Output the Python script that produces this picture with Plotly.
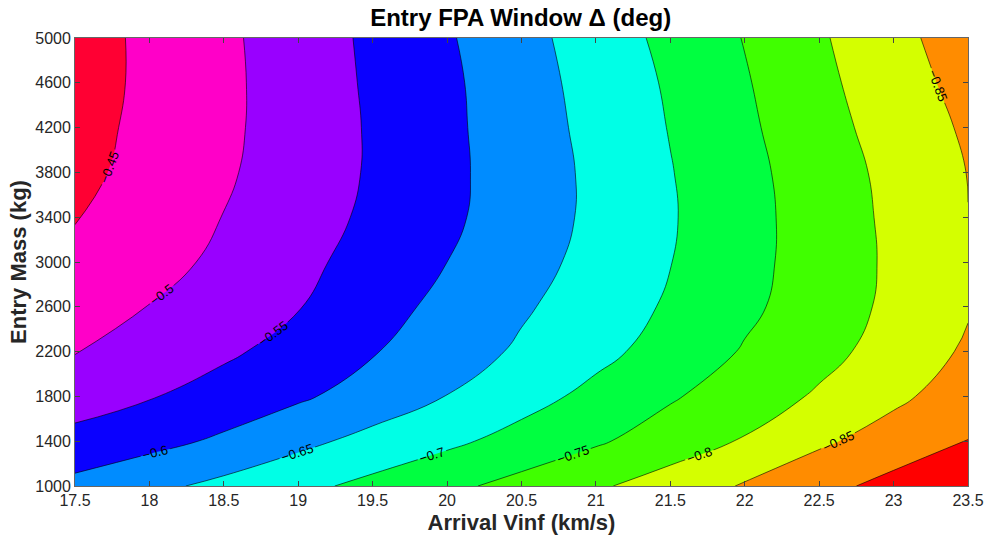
import plotly.graph_objects as go

# Arrival hyperbolic excess speed (km/s) and entry mass (kg) grid
vinf_kms = [17.5, 18.0, 18.5, 19.0, 19.5, 20.0, 20.5, 21.0, 21.5, 22.0, 22.5, 23.0, 23.5]
mass_kg = [1000, 1400, 1800, 2200, 2600, 3000, 3400, 3800, 4200, 4600, 5000]

# Entry FPA window width (deg), one row per entry mass
fpa_m1000 = [-0.614, -0.638, -0.6625, -0.6875, -0.713, -0.739, -0.7655, -0.793, -0.823, -0.854, -0.885, -0.915, -0.940]
fpa_m1400 = [-0.565, -0.585, -0.608, -0.6375, -0.665, -0.690, -0.717, -0.744, -0.7735, -0.804, -0.842, -0.872, -0.901]
fpa_m1800 = [-0.528, -0.547, -0.570, -0.593, -0.621, -0.651, -0.682, -0.713, -0.745, -0.775, -0.806, -0.840, -0.874]
fpa_m2200 = [-0.498, -0.519, -0.542, -0.568, -0.597, -0.627, -0.657, -0.687, -0.719, -0.754, -0.785, -0.819, -0.857]
fpa_m2600 = [-0.481, -0.501, -0.525, -0.548, -0.581, -0.613, -0.644, -0.674, -0.706, -0.740, -0.775, -0.810, -0.846]
fpa_m3000 = [-0.460, -0.483, -0.510, -0.538, -0.568, -0.600, -0.632, -0.665, -0.699, -0.735, -0.772, -0.808, -0.842]
fpa_m3400 = [-0.448, -0.474, -0.501, -0.529, -0.559, -0.591, -0.625, -0.660, -0.696, -0.734, -0.772, -0.810, -0.8495]
fpa_m3800 = [-0.4375, -0.466, -0.494, -0.524, -0.555, -0.589, -0.624, -0.660, -0.698, -0.736, -0.775, -0.813, -0.851]
fpa_m4200 = [-0.433, -0.462, -0.491, -0.522, -0.555, -0.590, -0.626, -0.664, -0.702, -0.741, -0.782, -0.820, -0.857]
fpa_m4600 = [-0.429, -0.460, -0.490, -0.523, -0.557, -0.591, -0.629, -0.668, -0.706, -0.746, -0.788, -0.828, -0.866]
fpa_m5000 = [-0.429, -0.460, -0.491, -0.525, -0.559, -0.595, -0.634, -0.673, -0.713, -0.752, -0.794, -0.835, -0.876]

fpa_grid = [fpa_m1000, fpa_m1400, fpa_m1800, fpa_m2200, fpa_m2600, fpa_m3000,
            fpa_m3400, fpa_m3800, fpa_m4200, fpa_m4600, fpa_m5000]

# Contour levels
level_start, level_end, level_step = -0.90, -0.45, 0.05

# Band colours from lowest (< -0.9) to highest (> -0.45), hsv-like
band_colors = ['#FF0000', '#FF8C00', '#D4FF00', '#40FF00', '#00FF40', '#00FFE6',
               '#008CFF', '#0A00FF', '#9900FF', '#FF00C8', '#FF0033']

n_bands = len(band_colors)
colorscale = []
for k, c in enumerate(band_colors):
    lo = max(0.0, (k - 0.45) / (n_bands - 1))
    hi = min(1.0, (k + 0.45) / (n_bands - 1))
    colorscale.append([lo, c])
    colorscale.append([hi, c])

font_family = "Arial, Liberation Sans, Helvetica, sans-serif"

fig = go.Figure(go.Contour(
    x=vinf_kms,
    y=mass_kg,
    z=fpa_grid,
    autocontour=False,
    contours=dict(
        start=level_start,
        end=level_end,
        size=level_step,
        coloring='fill',
        showlabels=True,
        labelfont=dict(family=font_family, size=13, color='black'),
        labelformat='.2~f',
    ),
    line=dict(color='black', width=0.6, smoothing=1.3),
    colorscale=colorscale,
    showscale=False,
    hoverinfo='x+y+z',
))

axis_common = dict(
    showgrid=False,
    zeroline=False,
    ticks='inside',
    ticklen=5,
    tickwidth=0.8,
    tickcolor='#444444',
    showline=True,
    linecolor='#666666',
    linewidth=0.8,
    mirror='allticks',
    automargin=False,
    tickfont=dict(family=font_family, size=16, color='#262626'),
)

fig.update_layout(
    width=988,
    height=545,
    margin=dict(l=75, r=20, t=38, b=59),
    paper_bgcolor='white',
    plot_bgcolor='white',
    title=dict(
        text='<b>Entry FPA Window \u0394 (deg)</b>',
        x=0.527, xanchor='center',
        y=0.967, yanchor='middle',
        font=dict(family=font_family, size=24, color='black'),
    ),
    xaxis=dict(
        range=[17.5, 23.5],
        dtick=0.5,
        tick0=17.5,
        title=dict(text='<b>Arrival Vinf (km/s)</b>',
                   font=dict(family=font_family, size=22, color='#262626'),
                   standoff=6),
        **axis_common,
    ),
    yaxis=dict(
        range=[1000, 5000],
        dtick=400,
        tick0=1000,
        title=dict(text='<b>Entry Mass (kg)</b>',
                   font=dict(family=font_family, size=22, color='#262626'),
                   standoff=2),
        **axis_common,
    ),
)

fig.write_html("out.html")
